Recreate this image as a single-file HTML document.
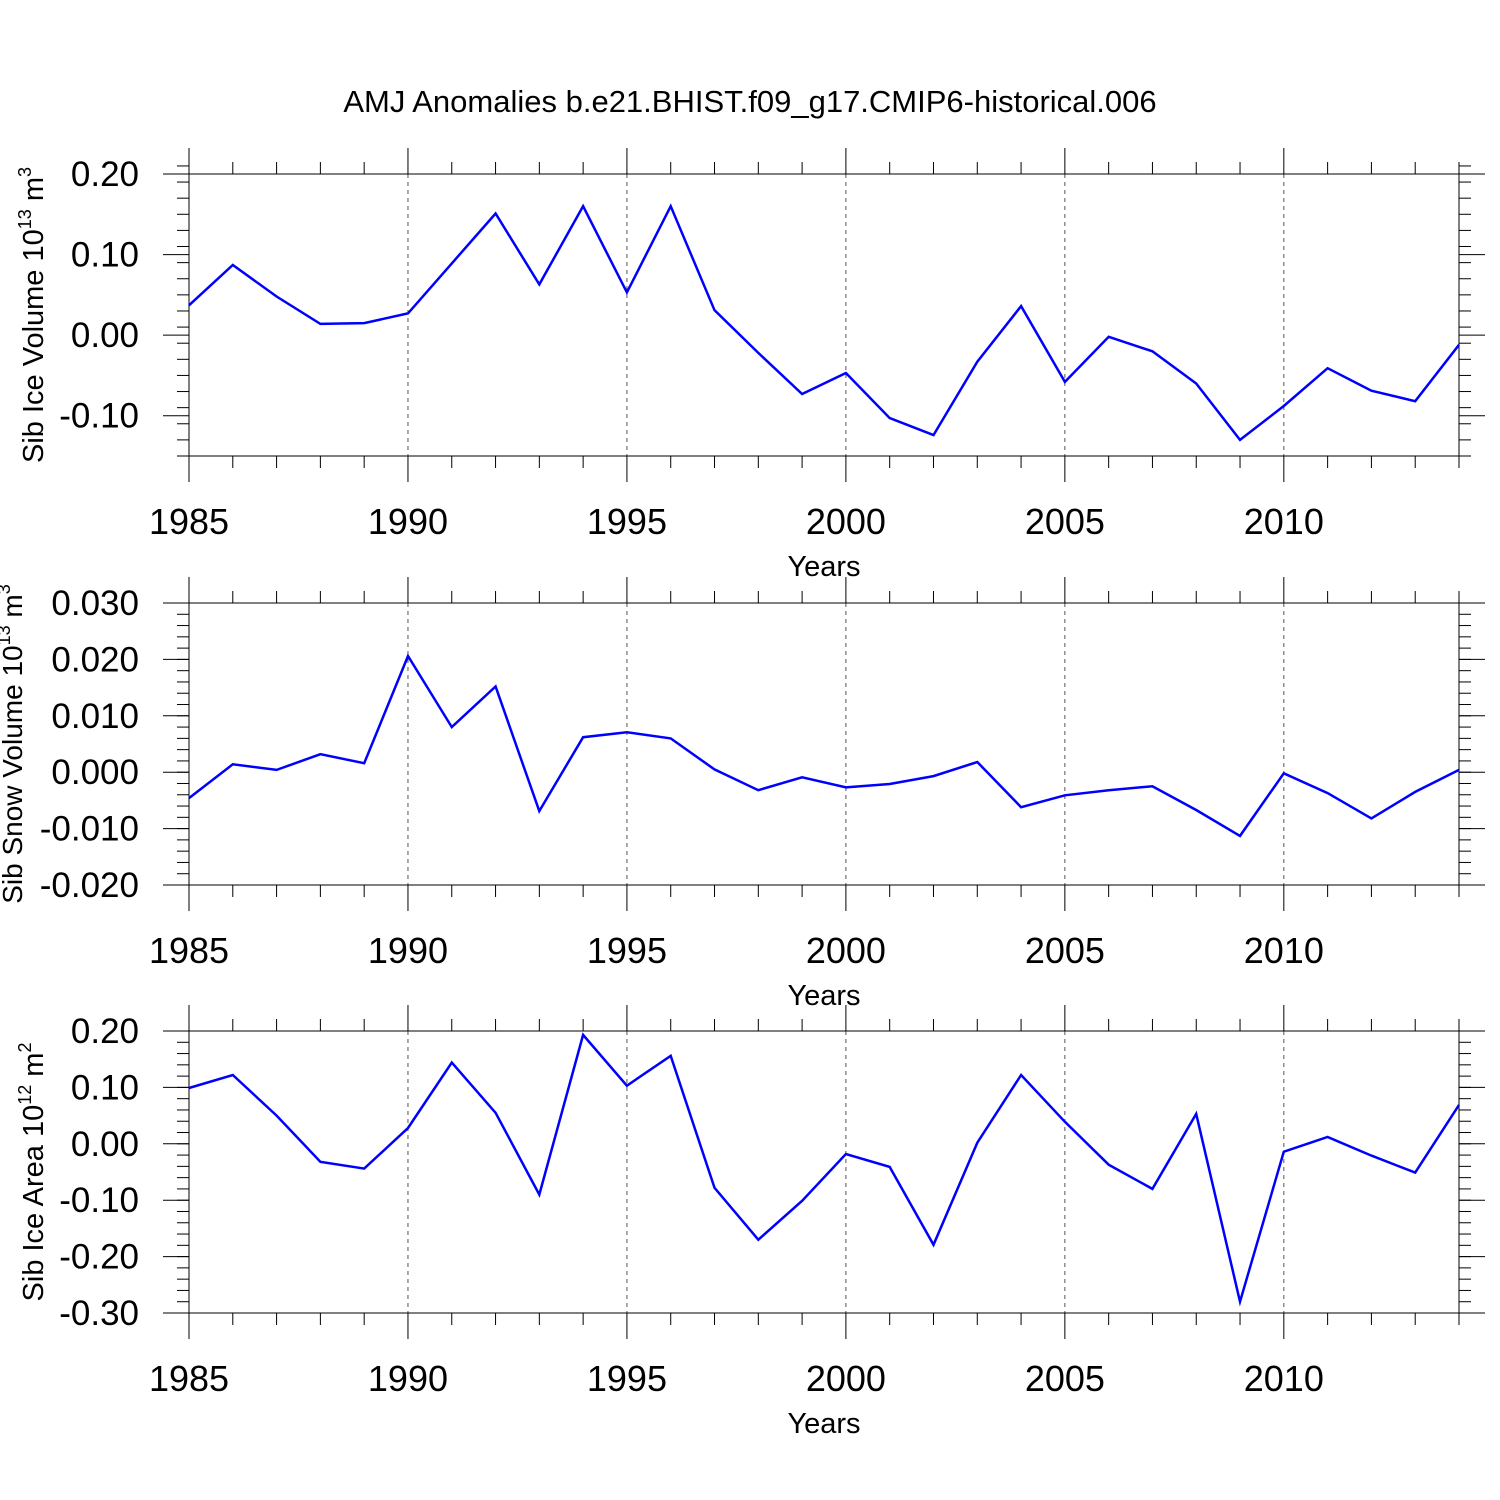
<!DOCTYPE html>
<html><head><meta charset="utf-8"><style>
body{margin:0;background:#fff;}
svg{display:block;font-family:"Liberation Sans",sans-serif;}
</style></head><body>
<svg id="chart" width="1500" height="1500" viewBox="0 0 1500 1500">
<text x="750" y="112" font-size="31" text-anchor="middle">AMJ Anomalies b.e21.BHIST.f09_g17.CMIP6-historical.006</text>
</svg>
<script>
const years = [1985,1986,1987,1988,1989,1990,1991,1992,1993,1994,1995,1996,1997,1998,1999,2000,2001,2002,2003,2004,2005,2006,2007,2008,2009,2010,2011,2012,2013,2014];
const iceVolume = [0.037,0.087,0.048,0.014,0.015,0.027,0.089,0.151,0.063,0.160,0.053,0.160,0.031,-0.022,-0.073,-0.047,-0.103,-0.124,-0.033,0.036,-0.058,-0.002,-0.020,-0.060,-0.130,-0.088,-0.041,-0.069,-0.082,-0.012];
const snowVolume = [-0.0046,0.0014,0.0004,0.0032,0.0016,0.0206,0.0080,0.0152,-0.0069,0.0062,0.0071,0.0060,0.0005,-0.0032,-0.0009,-0.0027,-0.0021,-0.0007,0.0018,-0.0062,-0.0041,-0.0032,-0.0025,-0.0067,-0.0113,-0.0002,-0.0037,-0.0082,-0.0035,0.0004];
const iceArea = [0.099,0.122,0.050,-0.032,-0.044,0.028,0.144,0.055,-0.090,0.193,0.103,0.156,-0.078,-0.170,-0.101,-0.018,-0.041,-0.179,0.002,0.122,0.039,-0.037,-0.080,0.053,-0.280,-0.014,0.012,-0.021,-0.051,0.069];
const xTickLabels = [1985,1990,1995,2000,2005,2010];
const ticks1 = ["0.20","0.10","0.00","-0.10"];
const ticks2 = ["0.030","0.020","0.010","0.000","-0.010","-0.020"];
const ticks3 = ["0.20","0.10","0.00","-0.10","-0.20","-0.30"];

const NS="http://www.w3.org/2000/svg";
const svg=document.getElementById('chart');
function mk(t,a,p){const e=document.createElementNS(NS,t);for(const k in a)e.setAttribute(k,a[k]);(p||svg).appendChild(e);return e;}
const X0=189,X1=1459,xmin=1985,xmax=2014;
const xs=v=>X0+(v-xmin)/(xmax-xmin)*(X1-X0);

function panel(name,top,bot,ymin,ymax,minorStep,labels,data,title,sup,unit,titleX,titleSize){
  const g=mk('g',{});
  
  
  const ys=v=>bot-(v-ymin)/(ymax-ymin)*(bot-top);
  for(const yr of xTickLabels){ if(yr===1985)continue;
    const l=mk('line',{x1:xs(yr),x2:xs(yr),y1:top,y2:bot,stroke:'#555','stroke-width':1,'stroke-dasharray':'4,4'},g);
    
    
  }
  for(let yr=xmin;yr<=xmax;yr++){
    const len=(yr%5===0)?26:12;
    mk('line',{x1:xs(yr),x2:xs(yr),y1:top-len,y2:top,stroke:'#000','stroke-width':1},g);
    mk('line',{x1:xs(yr),x2:xs(yr),y1:bot,y2:bot+len,stroke:'#000','stroke-width':1},g);
  }
  for(const yr of xTickLabels){
    const t=mk('text',{x:xs(yr),y:bot+78,'font-size':36,'text-anchor':'middle'},g);
    t.textContent=yr;
    
    
  }
  const xt=mk('text',{x:824,y:bot+120,'font-size':29,'text-anchor':'middle'},g);
  xt.textContent='Years';
  
  
  const nMin=Math.round((ymax-ymin)/minorStep);
  for(let i=0;i<=nMin;i++){
    const v=ymin+i*minorStep; const y=ys(v);
    mk('line',{x1:X0-12,x2:X0,y1:y,y2:y,stroke:'#000','stroke-width':1},g);
    mk('line',{x1:X1,x2:X1+12,y1:y,y2:y,stroke:'#000','stroke-width':1},g);
  }
  labels.forEach(s=>{
    const v=parseFloat(s); const y=ys(v);
    mk('line',{x1:X0-26,x2:X0,y1:y,y2:y,stroke:'#000','stroke-width':1},g);
    mk('line',{x1:X1,x2:X1+26,y1:y,y2:y,stroke:'#000','stroke-width':1},g);
    const t=mk('text',{x:139,y:y+12,'font-size':35,'text-anchor':'end'},g);
    t.textContent=s;
    
    
  });
  mk('rect',{x:X0,y:top,width:X1-X0,height:bot-top,fill:'none',stroke:'#000','stroke-width':1},g);
  const cy=(top+bot)/2;
  const yt=mk('text',{x:0,y:0,'font-size':titleSize,'text-anchor':'middle',transform:`translate(${titleX},${cy}) rotate(-90)`},g);
  
  
  const a=mk('tspan',{},yt); a.textContent=title+' 10';
  const b=mk('tspan',{'font-size':18,dy:-12}); yt.appendChild(b); b.textContent=sup;
  const c=mk('tspan',{dy:12}); yt.appendChild(c); c.textContent=' m';
  const d=mk('tspan',{'font-size':18,dy:-12}); yt.appendChild(d); d.textContent=unit;
  const pts=data.map((v,i)=>xs(years[i]).toFixed(1)+','+ys(v).toFixed(1)).join(' ');
  const pl=mk('polyline',{points:pts,fill:'none',stroke:'#0000ff','stroke-width':2.5,'stroke-linejoin':'miter'},g);
  
  
}
panel('ice-volume-panel',174,456,-0.15,0.20,0.02,ticks1,iceVolume,'Sib Ice Volume','13','3',43,29);
panel('snow-volume-panel',603,885,-0.02,0.03,0.002,ticks2,snowVolume,'Sib Snow Volume','13','3',22,28);
panel('ice-area-panel',1031,1313,-0.30,0.20,0.02,ticks3,iceArea,'Sib Ice Area','12','2',43,29);
</script>
</body></html>
